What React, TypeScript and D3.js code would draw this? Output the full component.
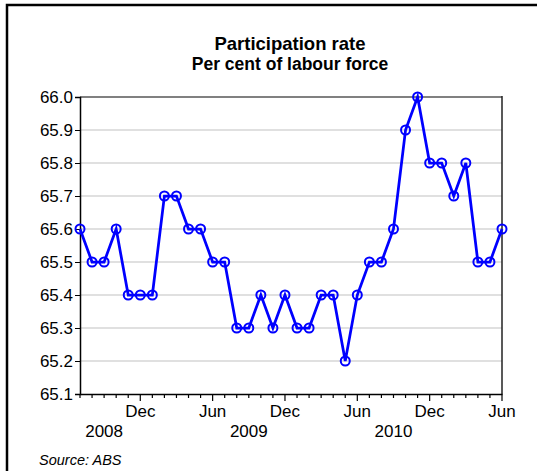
import React, { useRef, useEffect } from 'react';
import * as d3 from 'd3';

// Monthly, Jul 2008 to Jun 2011
const months: string[] = [
  'Jul', 'Aug', 'Sep', 'Oct', 'Nov', 'Dec',
  'Jan', 'Feb', 'Mar', 'Apr', 'May', 'Jun', 'Jul', 'Aug', 'Sep', 'Oct', 'Nov', 'Dec',
  'Jan', 'Feb', 'Mar', 'Apr', 'May', 'Jun', 'Jul', 'Aug', 'Sep', 'Oct', 'Nov', 'Dec',
  'Jan', 'Feb', 'Mar', 'Apr', 'May', 'Jun'
];

const rate: number[] = [
  65.6, 65.5, 65.5, 65.6, 65.4, 65.4, 65.4, 65.7, 65.7, 65.6, 65.6, 65.5,
  65.5, 65.3, 65.3, 65.4, 65.3, 65.4, 65.3, 65.3, 65.4, 65.4, 65.2, 65.4,
  65.5, 65.5, 65.6, 65.9, 66.0, 65.8, 65.8, 65.7, 65.8, 65.5, 65.5, 65.6
];

const yTicks: number[] = [65.1, 65.2, 65.3, 65.4, 65.5, 65.6, 65.7, 65.8, 65.9, 66.0];

// year labels and the month index they sit under
const yearLabels: string[] = ['2008', '2009', '2010'];
const yearAt: number[] = [2, 14, 26];

const App: React.FC = () => {
  const svgRef = useRef<SVGSVGElement>(null);

  useEffect(() => {
    if (!svgRef.current) return;
    const svg = d3.select(svgRef.current);
    svg.selectAll('*').remove();

    const left = 80, right = 502, top = 97, bottom = 394;
    const font = 'Liberation Sans, Arial, sans-serif';

    const x = d3.scaleLinear().domain([0, rate.length - 1]).range([left, right]);
    const y = d3.scaleLinear().domain([65.1, 66.0]).range([bottom, top]);

    // outer frame (clipped at right and bottom)
    svg.append('path')
      .attr('d', `M7,540 L7,5 L540,5`)
      .attr('fill', 'none')
      .attr('stroke', '#000')
      .attr('stroke-width', 2.5);

    // title
    svg.append('text')
      .attr('x', 290).attr('y', 50)
      .attr('text-anchor', 'middle')
      .attr('font-family', font).attr('font-weight', 'bold').attr('font-size', 18.5)
      .text('Participation rate');
    svg.append('text')
      .attr('x', 290).attr('y', 70)
      .attr('text-anchor', 'middle')
      .attr('font-family', font).attr('font-weight', 'bold').attr('font-size', 17.5)
      .text('Per cent of labour force');

    // gridlines
    svg.append('g')
      .selectAll('line')
      .data(yTicks.slice(1))
      .enter().append('line')
      .attr('x1', left).attr('x2', right)
      .attr('y1', d => y(d)).attr('y2', d => y(d))
      .attr('stroke', d => (d === 66.0 ? '#808080' : '#d6d6d6'))
      .attr('stroke-width', d => (d === 66.0 ? 2 : 1.5));

    // right border
    svg.append('line')
      .attr('x1', right).attr('x2', right)
      .attr('y1', top - 1).attr('y2', bottom)
      .attr('stroke', '#222').attr('stroke-width', 1.5);

    // y axis
    const yAxis = svg.append('g')
      .attr('transform', `translate(${left},0)`)
      .call(d3.axisLeft(y).tickValues(yTicks).tickFormat(d3.format('.1f')).tickSize(5).tickPadding(2));
    yAxis.select('.domain').attr('stroke', '#000').attr('stroke-width', 1.5);
    yAxis.selectAll('text')
      .attr('font-family', font).attr('font-size', 17).attr('fill', '#000');

    // x axis
    const xAxis = svg.append('g')
      .attr('transform', `translate(0,${bottom})`)
      .call(d3.axisBottom(x).ticks(0).tickSizeOuter(0));
    xAxis.select('.domain').attr('stroke', '#000').attr('stroke-width', 1.5);

    const tickG = svg.append('g');
    tickG.selectAll('line')
      .data(months.map((m, i) => ({ m, i })))
      .enter().append('line')
      .attr('x1', d => x(d.i)).attr('x2', d => x(d.i))
      .attr('y1', bottom)
      .attr('y2', d => bottom + (d.m === 'Dec' || d.m === 'Jun' ? 7 : 4))
      .attr('stroke', '#000').attr('stroke-width', 1.2);

    tickG.selectAll('text.month')
      .data(months.map((m, i) => ({ m, i })).filter(d => d.m === 'Dec' || d.m === 'Jun'))
      .enter().append('text')
      .attr('class', 'month')
      .attr('x', d => x(d.i)).attr('y', bottom + 23)
      .attr('text-anchor', 'middle')
      .attr('font-family', font).attr('font-size', 17)
      .text(d => d.m);

    tickG.selectAll('text.year')
      .data(yearLabels)
      .enter().append('text')
      .attr('class', 'year')
      .attr('x', (d, i) => x(yearAt[i])).attr('y', bottom + 43)
      .attr('text-anchor', 'middle')
      .attr('font-family', font).attr('font-size', 17)
      .text(d => d);

    // line + markers
    const line = d3.line<number>()
      .x((d, i) => x(i))
      .y(d => y(d));

    svg.append('path')
      .datum(rate)
      .attr('d', line)
      .attr('fill', 'none')
      .attr('stroke', '#0000ff')
      .attr('stroke-width', 2.75);

    svg.append('g')
      .selectAll('circle')
      .data(rate)
      .enter().append('circle')
      .attr('cx', (d, i) => x(i))
      .attr('cy', d => y(d))
      .attr('r', 4.5)
      .attr('fill', 'none')
      .attr('stroke', '#0000ff')
      .attr('stroke-width', 2);

    svg.append('text')
      .attr('x', 39).attr('y', 465)
      .attr('font-family', font).attr('font-size', 14.5).attr('font-style', 'italic')
      .text('Source: ABS');
  }, []);

  return (
    <svg ref={svgRef} width={537} height={471}
      style={{ position: 'absolute', left: 0, top: 0, background: '#fff' }} />
  );
};

export default App;
